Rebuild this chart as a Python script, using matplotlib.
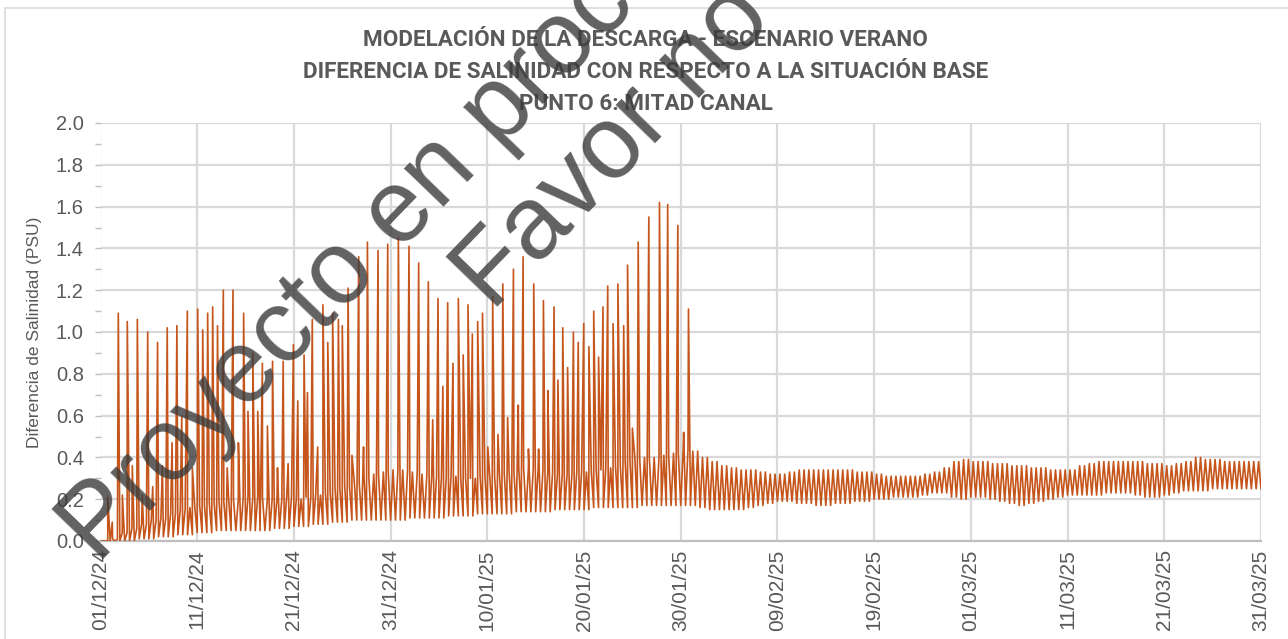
import numpy as np
import matplotlib
matplotlib.use("Agg")
import matplotlib.pyplot as plt
import matplotlib.dates as mdates
from matplotlib.patches import Rectangle
from matplotlib.ticker import MultipleLocator

# ---- datos (dias desde 01/12/24) ----
start = "2024-12-01"

# envolvente superior diaria de la oscilacion de marea (PSU)
upper = [0.00, 0.01, 0.04, 0.06, 0.08, 0.10, 0.11, 0.13, 0.15, 0.16,
         0.17, 0.18, 0.19, 0.20, 0.20, 0.21, 0.21, 0.20, 0.20, 0.21,
         0.20, 0.21, 0.22, 0.23, 0.25, 0.26, 0.28, 0.30, 0.32, 0.33,
         0.34, 0.34, 0.33, 0.32, 0.31, 0.30, 0.31, 0.30, 0.30, 0.31,
         0.31, 0.32, 0.33, 0.35, 0.35, 0.34, 0.33, 0.32, 0.32, 0.33,
         0.33, 0.34, 0.35, 0.36, 0.38, 0.40, 0.40, 0.40, 0.41, 0.42,
         0.44, 0.43, 0.40, 0.38, 0.36, 0.35, 0.34, 0.34, 0.33, 0.32,
         0.32, 0.33, 0.34, 0.34, 0.34, 0.34, 0.34, 0.34, 0.33, 0.33,
         0.32, 0.31, 0.31, 0.31, 0.31, 0.32, 0.33, 0.35, 0.38, 0.39,
         0.38, 0.38, 0.37, 0.37, 0.36, 0.36, 0.35, 0.35, 0.34, 0.34,
         0.34, 0.36, 0.37, 0.38, 0.38, 0.38, 0.38, 0.38, 0.37, 0.37,
         0.36, 0.37, 0.38, 0.40, 0.39, 0.39, 0.38, 0.38, 0.38, 0.38,
         0.37]

# envolvente inferior diaria (PSU)
lower = [0.00, 0.00, 0.00, 0.00, 0.01, 0.01, 0.02, 0.02, 0.03, 0.03,
         0.04, 0.04, 0.05, 0.05, 0.05, 0.05, 0.05, 0.05, 0.06, 0.06,
         0.07, 0.07, 0.08, 0.08, 0.09, 0.09, 0.10, 0.10, 0.10, 0.10,
         0.10, 0.10, 0.11, 0.11, 0.11, 0.11, 0.12, 0.12, 0.12, 0.13,
         0.13, 0.13, 0.13, 0.14, 0.14, 0.14, 0.14, 0.15, 0.15, 0.15,
         0.15, 0.16, 0.16, 0.16, 0.16, 0.16, 0.17, 0.17, 0.17, 0.17,
         0.17, 0.17, 0.16, 0.15, 0.15, 0.15, 0.15, 0.16, 0.17, 0.18,
         0.19, 0.19, 0.18, 0.18, 0.17, 0.17, 0.18, 0.18, 0.19, 0.19,
         0.20, 0.20, 0.21, 0.21, 0.21, 0.22, 0.23, 0.23, 0.21, 0.20,
         0.21, 0.21, 0.20, 0.19, 0.18, 0.17, 0.18, 0.19, 0.20, 0.21,
         0.22, 0.22, 0.22, 0.22, 0.23, 0.23, 0.23, 0.22, 0.21, 0.21,
         0.22, 0.23, 0.24, 0.24, 0.24, 0.25, 0.25, 0.25, 0.25, 0.25,
         0.25]

# picos (dia, valor PSU)
spike_t = [0.75, 1.22, 1.84, 2.26, 2.77, 3.29, 3.81, 4.32, 4.88, 5.40,
           5.90, 6.40, 6.90, 7.40, 7.90, 8.40, 8.98, 9.50, 10.05, 10.57,
           11.08, 11.60, 12.10, 12.70, 13.10, 13.70, 14.26, 14.80, 15.25, 15.75,
           16.26, 16.74, 17.26, 17.79, 18.30, 18.89, 19.40, 19.95, 20.40, 21.05,
           21.40, 21.90, 22.46, 23.00, 23.50, 24.00, 24.60, 25.00, 25.60, 26.00,
           26.70, 27.20, 27.60, 28.70, 29.70, 30.80, 31.90, 32.90, 33.90, 34.35,
           34.90, 35.40, 35.90, 36.45, 37.00, 37.50, 38.00, 38.45, 39.00, 39.50,
           40.05, 40.55, 41.10, 41.60, 42.10, 42.70, 43.20, 43.70, 44.25, 44.80,
           45.30, 45.80, 46.25, 46.90, 47.30, 47.80, 48.30, 48.90, 49.40, 49.97,
           50.50, 51.00, 51.50, 51.96, 52.45, 53.00, 53.50, 54.10, 54.50, 55.00,
           55.60, 56.70, 57.80, 58.65, 59.70, 60.30, 60.80]
spike_v = [0.21, 0.09, 1.09, 0.22, 1.05, 0.36, 1.06, 0.22, 1.00, 0.26,
           0.95, 0.36, 1.02, 0.47, 1.03, 0.60, 1.10, 0.35, 1.11, 1.01,
           1.09, 1.12, 1.03, 1.20, 0.35, 1.20, 0.47, 1.09, 0.62, 0.90,
           0.62, 0.85, 0.55, 0.86, 0.35, 0.86, 0.37, 0.94, 0.67, 0.89,
           0.71, 1.06, 0.45, 1.13, 0.95, 1.09, 1.06, 1.03, 1.21, 0.41,
           1.36, 0.45, 1.43, 1.39, 1.42, 1.45, 1.41, 1.33, 1.24, 0.58,
           1.16, 0.74, 1.14, 0.85, 1.16, 0.89, 1.13, 0.99, 1.05, 1.09,
           0.45, 1.17, 0.51, 1.23, 0.59, 1.30, 0.65, 1.36, 0.44, 1.23,
           0.44, 1.15, 0.72, 1.12, 0.77, 1.02, 0.83, 1.00, 0.95, 1.04,
           0.93, 1.10, 0.88, 1.12, 1.22, 1.04, 1.23, 1.03, 1.32, 0.54,
           1.43, 1.55, 1.62, 1.61, 1.51, 0.52, 1.11]

title = ("MODELACIÓN DE LA DESCARGA - ESCENARIO VERANO\n"
         "DIFERENCIA DE SALINIDAD CON RESPECTO A LA SITUACIÓN BASE\n"
         "PUNTO 6: MITAD CANAL")
ylabel = "Diferencia de Salinidad (PSU)"

# ---- serie: dos pleamares / bajamares por dia ----
t, v = [], []
for d in range(len(upper) - 1):
    t += [d, d + 0.25, d + 0.5, d + 0.75]
    v += [lower[d], upper[d], lower[d], upper[d]]
t.append(len(upper) - 1)
v.append(lower[-1])
t = np.array(t + spike_t, dtype=float)
v = np.array(v + spike_v, dtype=float)
order = np.argsort(t, kind="stable")
t, v = t[order], v[order]

x0 = mdates.date2num(np.datetime64(start))
x = x0 + t

gray = "#595959"
grid = "#D9D9D9"

fig = plt.figure(figsize=(12.88, 6.39), dpi=100)
ax = fig.add_axes([100.5 / 1288, 98 / 639, 1160.5 / 1288, 418 / 639])

ax.plot(x, v, color="#C5551A", lw=1.2, zorder=3)

ax.set_xlim(x0, x0 + 120)
ax.set_ylim(0, 2.0)
ax.yaxis.set_major_locator(MultipleLocator(0.2))
ax.yaxis.set_minor_locator(MultipleLocator(0.1))
ax.yaxis.set_major_formatter(matplotlib.ticker.FormatStrFormatter("%.1f"))
ax.set_xticks(x0 + np.arange(0, 121, 10))
ax.xaxis.set_major_formatter(mdates.DateFormatter("%d/%m/%y"))

ax.grid(True, which="major", color=grid, lw=1.6, zorder=0)
for s in ["top", "right", "left"]:
    ax.spines[s].set_visible(False)
ax.spines["bottom"].set_color("#BFBFBF")
ax.spines["bottom"].set_linewidth(1.6)

ax.tick_params(axis="y", which="both", length=4, color="#BFBFBF", width=1,
               labelsize=14.5, labelcolor=gray, pad=8)
ax.tick_params(axis="x", length=0, labelsize=15, labelcolor=gray, pad=6,
               labelrotation=90)
for lab in ax.get_xticklabels() + ax.get_yticklabels():
    lab.set_family("Liberation Sans")

ax.set_ylabel(ylabel, fontsize=12.5, color=gray, family="Liberation Sans",
              labelpad=10)

fig.text(0.5015, 0.955, title, ha="center", va="top", fontsize=16.2,
         fontweight="bold", color=gray, linespacing=1.6,
         family=["Roboto", "DejaVu Sans"])

# borde del area del grafico
fig.add_artist(Rectangle((5 / 1288, -0.1), 1.2, 631 / 639 + 0.1,
                         transform=fig.transFigure, fill=False,
                         edgecolor=grid, lw=1.2))

# marca de agua
fig.text(98 / 1288, 1 - 565 / 639, "Proyecto en proceso", rotation=46,
         rotation_mode="anchor", ha="left", va="baseline", fontsize=74,
         color="#3a3a3a", alpha=0.8, family="Liberation Sans", zorder=10)
fig.text(492 / 1288, 1 - 312 / 639, "Favor no", rotation=46,
         rotation_mode="anchor", ha="left", va="baseline", fontsize=74,
         color="#3a3a3a", alpha=0.8, family="Liberation Sans", zorder=10)

fig.savefig("out.png", dpi=100)
